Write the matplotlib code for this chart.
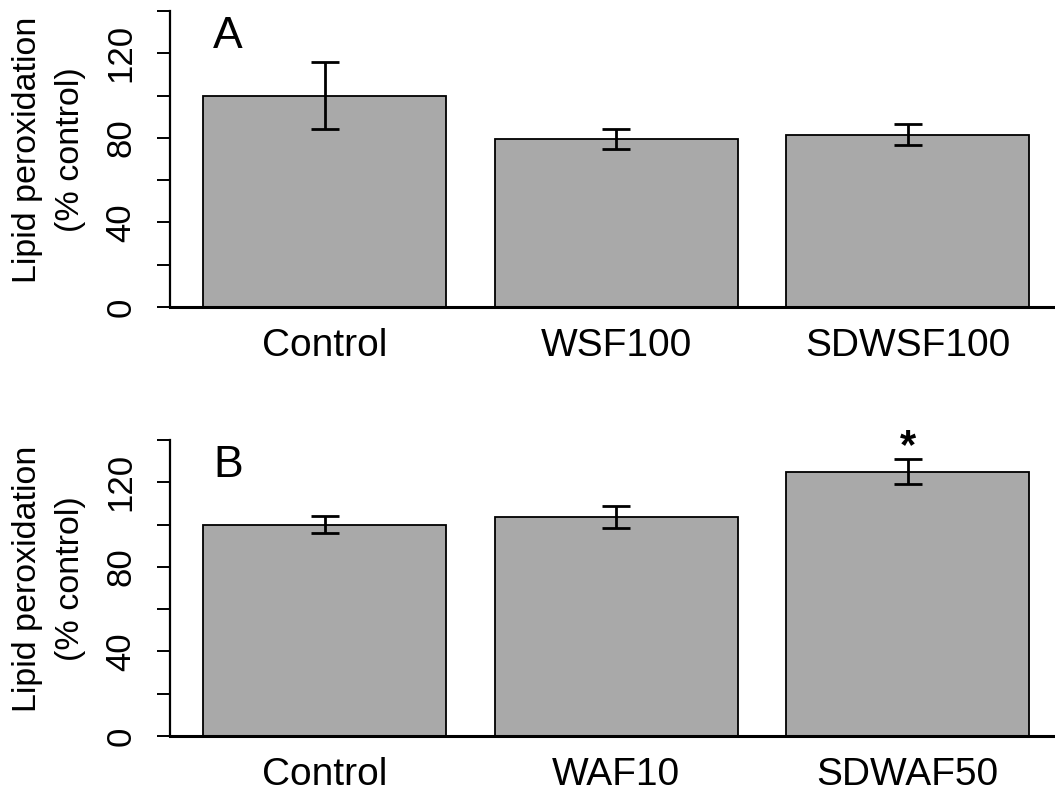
import matplotlib
matplotlib.use("Agg")
import matplotlib.pyplot as plt

plt.rcParams["font.family"] = ["Liberation Sans", "DejaVu Sans"]

# panel A
labels_a = ["Control", "WSF100", "SDWSF100"]
means_a = [100, 79.5, 81.4]
errs_a = [16, 4.7, 5.0]

# panel B
labels_b = ["Control", "WAF10", "SDWAF50"]
means_b = [100, 103.5, 125.0]
errs_b = [4.0, 5.3, 5.8]
stars_b = ["", "", "*"]

# R barplot style positions (width 1, space 0.2)
xpos = [0.7, 1.9, 3.1]

W, H = 1055, 791
fig = plt.figure(figsize=(W / 100, H / 100), dpi=100)


def panel(bottom_px, labels, means, errs, letter, stars=None):
    ax = fig.add_axes([170 / W, (H - bottom_px) / H, 885 / W, 296 / H])
    ax.bar(xpos, means, width=1.0, color="#a9a9a9", edgecolor="black",
           linewidth=1.3, zorder=2)
    ax.errorbar(xpos, means, yerr=errs, fmt="none", ecolor="black",
                elinewidth=2.0, capsize=10, capthick=2.0, zorder=3)
    ax.set_xlim(0.064, 3.706)
    ax.set_ylim(0, 140)
    for s in ["top", "right"]:
        ax.spines[s].set_visible(False)
    ax.spines["left"].set_linewidth(1.6)
    ax.spines["bottom"].set_linewidth(2.2)
    ax.spines["bottom"].set_zorder(4)
    ax.set_yticks([0, 40, 80, 120])
    ax.set_yticks([20, 60, 100, 140], minor=True)
    ax.set_yticklabels(["0", "40", "80", "120"], rotation=90, va="center")
    ax.tick_params(axis="y", which="both", length=9.5, width=1.4, pad=14,
                   labelsize=25)
    ax.set_xticks(xpos)
    ax.set_xticklabels(labels)
    ax.tick_params(axis="x", length=0, pad=15, labelsize=28)
    ax.text(0.241, 122.5, letter, fontsize=32, va="baseline", ha="left")
    if stars:
        for x, m, e, s in zip(xpos, means, errs, stars):
            if s:
                ax.text(x, m + e + 0.5, s, fontsize=30, ha="center",
                        va="baseline", fontweight="bold", clip_on=False)
    fig.text(28 / W, 1 - (bottom_px - 157) / H, "Lipid peroxidation",
             rotation=90, ha="center", va="center", fontsize=24.5)
    fig.text(71 / W, 1 - (bottom_px - 157) / H, "(% control)",
             rotation=90, ha="center", va="center", fontsize=24.5)
    return ax


panel(307, labels_a, means_a, errs_a, "A")
panel(736, labels_b, means_b, errs_b, "B", stars_b)

fig.savefig("out.png", dpi=100)
